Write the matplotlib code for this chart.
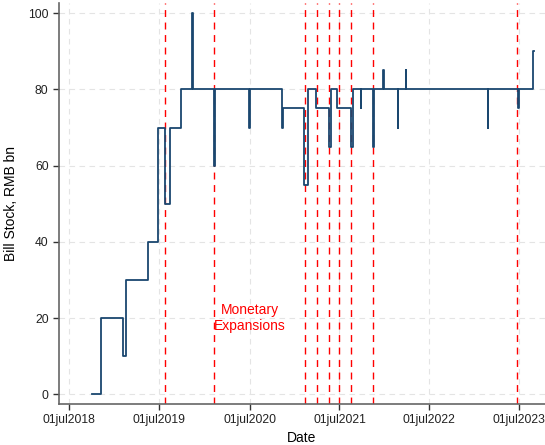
import numpy as np
import pandas as pd
import matplotlib
matplotlib.use("Agg")
import matplotlib.pyplot as plt
import matplotlib.dates as mdates
from matplotlib.ticker import FuncFormatter

# step changes of the bill stock (date the new level starts, level in RMB bn)
bill_dates = ["2018-10-02", "2018-11-07", "2019-02-05", "2019-02-15", "2019-05-15",
              "2019-06-26", "2019-07-25", "2019-08-13", "2019-09-26", "2019-11-11",
              "2019-11-15", "2020-02-08", "2020-02-13", "2020-06-29", "2020-07-02",
              "2020-11-09", "2020-11-13", "2021-02-07", "2021-02-22", "2021-03-28",
              "2021-05-18", "2021-05-27", "2021-06-23", "2021-08-17", "2021-08-24",
              "2021-09-26", "2021-09-28", "2021-11-16", "2021-11-19", "2021-12-24",
              "2021-12-27", "2022-02-23", "2022-02-25", "2022-03-26", "2022-03-29",
              "2023-02-22", "2023-02-24", "2023-06-25", "2023-06-28", "2023-08-24",
              "2023-08-31"]
bill_values = [0, 20, 10, 30, 40,
               70, 50, 70, 80, 100,
               80, 60, 80, 70, 80,
               70, 75, 55, 80, 75,
               65, 80, 75, 65, 80,
               75, 80, 65, 80, 85,
               80, 70, 80, 85, 80,
               70, 80, 75, 80, 90,
               90]

# monetary expansion dates (red dashed lines)
expansion_dates = ["2019-07-25", "2020-02-09", "2021-02-10", "2021-03-31", "2021-05-21",
                   "2021-06-30", "2021-08-18", "2021-11-16", "2023-06-22"]

tick_dates = ["2018-07-01", "2019-07-01", "2020-07-01", "2021-07-01", "2022-07-01", "2023-07-01"]
y_ticks = [0, 20, 40, 60, 80, 100]

plt.rcParams['font.family'] = ['Liberation Sans', 'DejaVu Sans']

fig = plt.figure(figsize=(5.45, 4.45), dpi=100)
ax = fig.add_axes([0.1083, 0.0921, 0.8917, 0.9005])

dates = pd.to_datetime(bill_dates)
ax.step(dates, bill_values, where='post', color='#1a476f', lw=1.3, zorder=3)

for d in pd.to_datetime(expansion_dates):
    ax.axvline(d, color='red', lw=1.0, ls=(0, (5, 4)), zorder=2)

ax.text(pd.Timestamp("2020-07-01"), 20, "Monetary\nExpansions", color='red',
        ha='center', va='center', multialignment='center', fontsize=10, linespacing=1.15)

ax.set_xlim(pd.Timestamp("2018-05-20"), pd.Timestamp("2023-10-13"))
ax.set_ylim(-2.55, 102.6)
ax.set_xticks(pd.to_datetime(tick_dates))
ax.xaxis.set_major_formatter(FuncFormatter(lambda v, p: mdates.num2date(v).strftime('%d%b%Y').lower()))
ax.set_yticks(y_ticks)

ax.grid(True, color='#e4e4e4', ls=(0, (5, 4)), lw=0.8, zorder=0)
ax.set_axisbelow(True)
for s in ['top', 'right']:
    ax.spines[s].set_visible(False)
for s in ['left', 'bottom']:
    ax.spines[s].set_color('#666666')
    ax.spines[s].set_linewidth(1.2)
ax.tick_params(length=4, width=1, color='#333333', labelsize=8.7, labelcolor='#222222')

ax.set_xlabel("Date", fontsize=10, labelpad=3)
ax.set_ylabel("Bill Stock, RMB bn", fontsize=10, labelpad=7)

fig.savefig("out.png", dpi=100)
